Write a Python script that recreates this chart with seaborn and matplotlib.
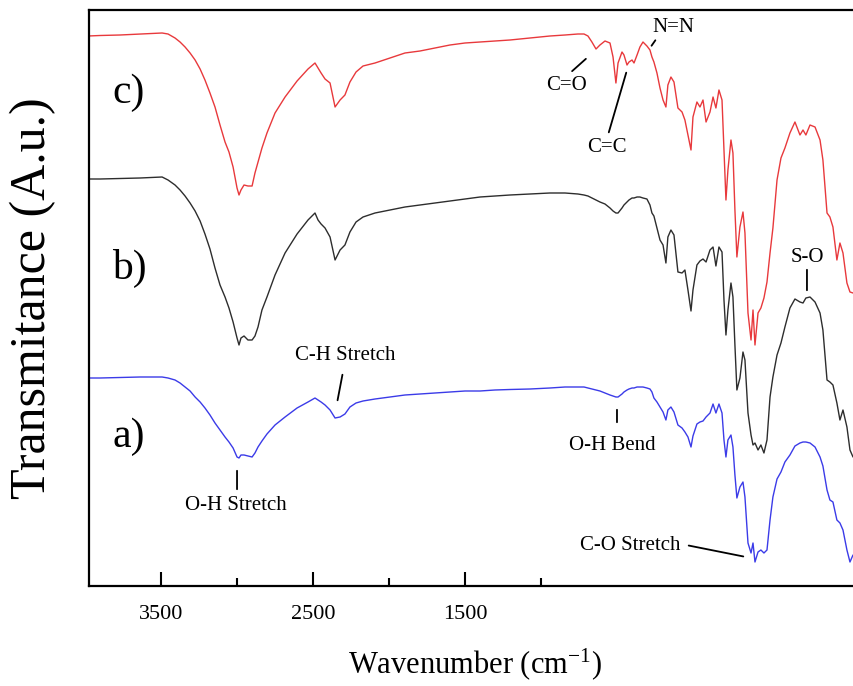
import matplotlib
matplotlib.use('Agg')
import matplotlib.pyplot as plt
import pandas as pd
import seaborn as sns
from matplotlib.ticker import FixedLocator

# ---- data (x in the axis' wavenumber units, y in a.u.) ----
wavenumber = [
    3980, 3901, 3770, 3638, 3493, 3454, 3408, 3375, 3342, 3309,
    3276, 3243, 3211, 3178, 3145, 3112, 3079, 3053, 3026, 3000,
    2987, 2974, 2954, 2928, 2901, 2882, 2862, 2836, 2803, 2750,
    2684, 2605, 2533, 2487, 2467, 2447, 2421, 2388, 2355, 2322,
    2290, 2257, 2217, 2171, 2092, 1993, 1895, 1796, 1697, 1599,
    1500, 1401, 1303, 1204, 1072, 941, 842, 757, 717, 691,
    665, 638, 612, 579, 546, 526, 507, 493, 467, 454,
    434, 421, 401, 388, 368, 349, 329, 303, 283, 270,
    257, 237, 217, 197, 178, 165, 145, 125, 99, 72,
    53, 33, 13, 0, -26, -46, -66, -86, -112, -132,
    -151, -171, -191, -204, -217, -230, -250, -263, -276, -289,
    -309, -329, -342, -362, -382, -395, -408, -428, -447, -467,
    -487, -507, -526, -553, -579, -605, -638, -671, -704, -724,
    -743, -770, -803, -836, -855, -882, -901, -921, -947, -967,
    -987, -1013, -1033, -1053]

trans_c = [
    550, 550.5, 551, 552, 553, 552, 548, 544, 539, 533,
    526, 517, 506, 493, 479, 461, 444, 434, 419, 398,
    391, 396, 401, 400, 400, 413, 424, 438, 453, 473,
    489, 505, 517, 523, 518, 513, 507, 503, 479, 486,
    491, 504, 514, 520, 523, 528, 533, 535, 538, 541,
    543, 544, 545, 546, 548, 550, 551, 552, 552, 550,
    544, 537, 541, 545, 543, 529, 503, 523, 534, 531,
    521, 524, 526, 523, 531, 539, 544, 540, 536, 529,
    524, 513, 498, 486, 479, 501, 509, 504, 478, 474,
    466, 451, 436, 469, 484, 479, 486, 464, 474, 489,
    478, 496, 486, 436, 386, 416, 446, 433, 376, 329,
    359, 374, 353, 273, 246, 276, 241, 273, 278, 288,
    304, 333, 358, 406, 428, 438, 453, 464, 451, 456,
    451, 461, 459, 446, 426, 373, 369, 359, 326, 343,
    333, 303, 294, 293]

trans_b = [
    407, 407, 407.5, 408, 409, 406, 401, 396, 390, 383,
    375, 365, 352, 337, 318, 301, 289, 278, 264, 248,
    241, 248, 250, 246, 246, 250, 259, 276, 289, 311,
    333, 352, 366, 373, 366, 362, 358, 349, 326, 336,
    341, 354, 364, 369, 373, 376, 379, 381, 383, 385,
    387, 389, 390, 391, 392, 393, 393, 392, 391, 390,
    388, 386, 384, 382, 378, 375, 373, 373, 378, 381,
    384, 386, 388, 388, 389, 389, 388, 387, 381, 373,
    370, 358, 346, 341, 323, 349, 356, 351, 314, 313,
    316, 296, 275, 296, 321, 325, 327, 324, 336, 339,
    320, 339, 334, 286, 251, 276, 303, 289, 241, 196,
    208, 234, 226, 173, 151, 141, 143, 136, 141, 133,
    146, 189, 209, 231, 243, 259, 278, 287, 284, 283,
    288, 289, 284, 273, 256, 206, 204, 201, 183, 166,
    176, 159, 136, 129]

trans_a = [
    208, 208, 208.5, 209, 209, 208, 206, 203, 199, 195,
    189, 184, 178, 171, 163, 156, 149, 144, 138, 129,
    128, 131, 131, 130, 129, 133, 139, 145, 152, 161,
    169, 178, 184, 188, 186, 184, 181, 176, 168, 169,
    172, 179, 183, 185, 187, 189, 191, 192, 193, 194,
    195, 195, 196, 196.5, 197, 198, 199, 199, 199, 198,
    197, 196, 195, 193, 191, 190, 189, 189, 192, 194,
    196, 197, 198, 198, 199, 199, 199, 198, 197, 194,
    188, 184, 179, 174, 166, 176, 179, 174, 161, 158,
    154, 149, 139, 150, 162, 164, 165, 169, 173, 182,
    173, 182, 173, 146, 129, 146, 151, 139, 111, 88,
    99, 104, 89, 43, 33, 43, 24, 34, 36, 33,
    36, 66, 89, 107, 114, 124, 131, 140, 143, 144,
    144, 143, 139, 129, 120, 96, 86, 84, 66, 63,
    56, 36, 24, 31]

sample_names = ['a)', 'b)', 'c)']
sample_colors = ['#3b3be8', '#2d2d2d', '#e8393c']
major_ticks = [3500, 2500, 1500]
minor_ticks = [3000, 2000, 1000]

sns.set_style('white')
plt.rcParams['font.family'] = ['Liberation Serif', 'DejaVu Serif']
plt.rcParams['mathtext.default'] = 'regular'
plt.rcParams['text.color'] = 'black'
plt.rcParams['axes.labelcolor'] = 'black'
plt.rcParams['xtick.color'] = 'black'

df = pd.concat([
    pd.DataFrame({'Wavenumber': wavenumber, 'Transmitance': t, 'sample': n})
    for t, n in zip([trans_a, trans_b, trans_c], sample_names)
], ignore_index=True)

fig = plt.figure(figsize=(8.54, 6.86), dpi=100)
ax = fig.add_axes([89 / 854, 100 / 686, 771 / 854, 576 / 686])

sns.lineplot(data=df, x='Wavenumber', y='Transmitance', hue='sample',
             palette=dict(zip(sample_names, sample_colors)),
             sort=False, estimator=None, legend=False, lw=1.0, ax=ax)

ax.set_xlim(3974, -1099)
ax.set_ylim(0, 576)

for side in ['left', 'top', 'bottom']:
    ax.spines[side].set_linewidth(1.6)
    ax.spines[side].set_color('black')
ax.spines['right'].set_visible(False)

ax.xaxis.set_major_locator(FixedLocator(major_ticks))
ax.xaxis.set_minor_locator(FixedLocator(minor_ticks))
ax.tick_params(axis='x', which='major', direction='in', length=10, width=1.5,
               labelsize=16, pad=14, bottom=True, top=False)
ax.tick_params(axis='x', which='minor', direction='in', length=6, width=1.5,
               bottom=True, top=False)
ax.set_yticks([])

ax.set_xlabel('Wavenumber (cm$^{-1}$)', fontsize=22, labelpad=16)
ax.set_ylabel('Transmitance (A.u.)', fontsize=36, labelpad=24)

# panel labels
for name, yv in zip(sample_names, [149, 318, 493]):
    ax.text(3711, yv, name, fontsize=30, ha='center', va='center')

# peak annotations: (text, text position, leader line start, leader line end)
notes = [
    ('O-H Stretch', (3007, 81), (3000, 118), (3000, 94)),
    ('C-H Stretch', (2289, 231), (2303, 214), (2342, 183)),
    ('O-H Bend', (533, 141), (500, 179), (500, 161)),
    ('S-O', (-750, 328), (-750, 319), (-750, 293)),
    ('N=N', (132, 559), (237, 548), (283, 538)),
    ('C=O', (829, 501), (809, 513), (691, 529)),
    ('C=C', (566, 438), (559, 451), (434, 516)),
]
for txt, tpos, p0, p1 in notes:
    ax.text(tpos[0], tpos[1], txt, fontsize=15, ha='center', va='center')
    ax.annotate('', xy=p1, xytext=p0,
                arrowprops=dict(arrowstyle='-', lw=1.3, color='black'))

ax.text(85, 41, 'C-O Stretch', fontsize=15, ha='right', va='center')
ax.annotate('', xy=(-349, 29), xytext=(46, 41),
            arrowprops=dict(arrowstyle='-', lw=1.3, color='black'))

fig.savefig('out.png', dpi=100)
